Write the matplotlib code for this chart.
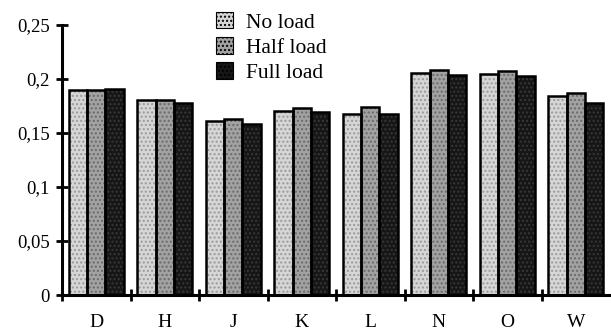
import numpy as np
import matplotlib.pyplot as plt
from matplotlib.patches import Patch

# vehicle categories and measured values per load case
categories = ["D", "H", "J", "K", "L", "N", "O", "W"]
no_load = [0.190, 0.181, 0.161, 0.170, 0.168, 0.206, 0.205, 0.184]
half_load = [0.190, 0.181, 0.163, 0.173, 0.174, 0.208, 0.207, 0.187]
full_load = [0.191, 0.178, 0.158, 0.169, 0.168, 0.204, 0.203, 0.178]
series_names = ["No load", "Half load", "Full load"]
ytick_vals = [0, 0.05, 0.1, 0.15, 0.2, 0.25]
ytick_labels = ["0", "0,05", "0,1", "0,15", "0,2", "0,25"]

plt.rcParams['font.family'] = ['Liberation Serif', 'DejaVu Serif']

face = ["#d6d6d6", "#a2a2a2", "#161616"]
dots = ["#9a9a9a", "#6a6a6a", "#383838"]

fig = plt.figure(figsize=(6.11, 3.33), dpi=100)
ax = fig.add_axes([62 / 611, 38 / 333, 548 / 611, 270 / 333])

x = np.arange(len(categories))
w = 0.27
for i, vals in enumerate([no_load, half_load, full_load]):
    pos = x + (i - 1) * w
    # stippled fill, then black outline on top
    ax.bar(pos, vals, w, color=face[i], edgecolor=dots[i], hatch="....",
           linewidth=0, zorder=2)
    ax.bar(pos, vals, w, fill=False, edgecolor="black", linewidth=1.8, zorder=3)

ax.set_xlim(-0.5, len(categories) - 0.5)
ax.set_ylim(0, 0.25)

for s in ["top", "right"]:
    ax.spines[s].set_visible(False)
for s in ["left", "bottom"]:
    ax.spines[s].set_linewidth(2.2)

ax.set_yticks(ytick_vals)
ax.set_yticklabels(ytick_labels, fontsize=13.5)
ax.tick_params(axis="y", direction="inout", length=8, width=2, pad=5)

ax.set_xticks(x)
ax.set_xticklabels(categories, fontsize=14)
ax.tick_params(axis="x", which="major", length=0, pad=14)
ax.set_xticks(np.arange(len(categories)) - 0.5, minor=True)
ax.tick_params(axis="x", which="minor", direction="inout", length=8, width=2)

handles = [Patch(facecolor=face[i], edgecolor="black", hatch="....", linewidth=0.8)
           for i in range(3)]
ax.legend(handles, series_names, loc="upper left",
          bbox_to_anchor=(0.265, 1.08), frameon=False, fontsize=15.5,
          handlelength=0.8, handleheight=0.8, handletextpad=0.6,
          labelspacing=0.2, borderaxespad=0)

fig.savefig("out.png", dpi=100)
